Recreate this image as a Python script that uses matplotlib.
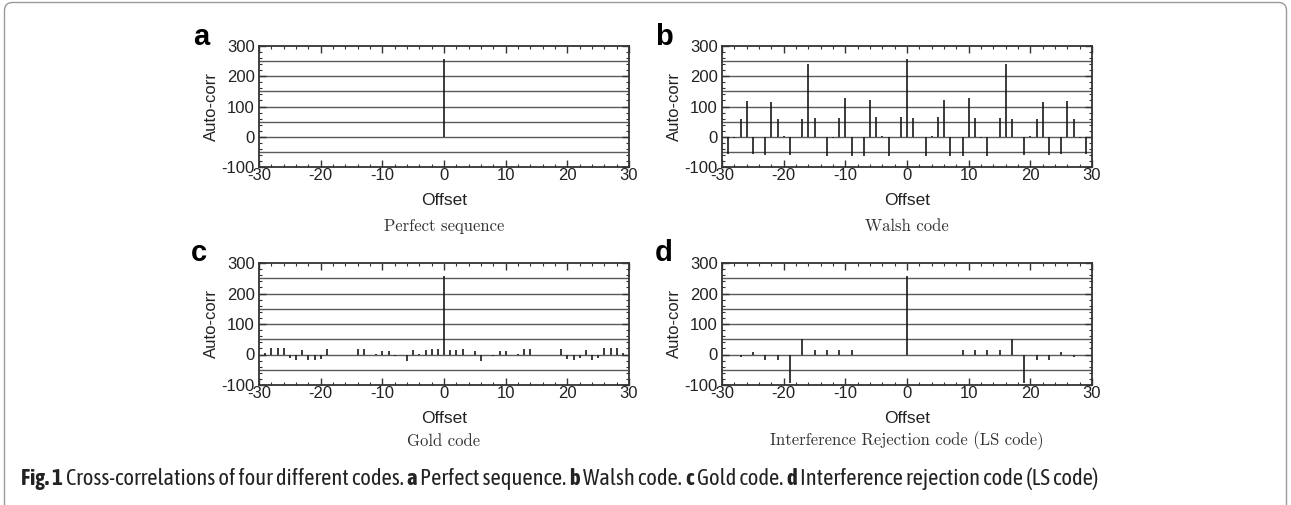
import numpy as np
import matplotlib
import matplotlib.pyplot as plt
from matplotlib.ticker import MultipleLocator
from matplotlib.patches import FancyBboxPatch
from matplotlib.transforms import IdentityTransform
from matplotlib import font_manager

plt.rcParams['font.family'] = ['Liberation Sans', 'DejaVu Sans']
plt.rcParams['axes.unicode_minus'] = False

# Data

perfect_offsets = [0]
perfect_vals = [256]

walsh_offsets = list(range(-29, 30))
walsh_vals = [-56, -3, 58, 118, -56, 0, -60, 116, 60, 4,
              -61, 0, 60, 242, 62, 0, -62, -5, 62, 127,
              -62, 0, -64, 123, 65, 4, -64, 0, 64, 256,
              63, 0, -64, 4, 64, 122, -64, 0, -62, 127,
              62, -4, -62, 0, 62, 242, 60, 0, -61, 4,
              60, 116, -60, 0, -56, 118, 58, -3, -56]

gold_offsets = list(range(-29, 30))
gold_vals = [4, 20, 20, 22, -13, -17, 16, -17, -17, -16,
             17, 0, -3, 0, -3, 17, 17, -2, 3, 13,
             13, -6, -2, -21, 15, 3, 15, 17, 17, 256,
             15, 15, 18, -1, 13, -20, -3, -6, 13, 13,
             -2, 2, 17, 17, -3, 0, -3, 0, 17, -16,
             -17, -13, 16, -17, -13, 22, 20, 20, 4]

ls_offsets = [-27, -25, -23, -21, -19, -17, -15, -13, -11, -9, 0,
              9, 11, 13, 15, 17, 19, 21, 23, 25, 27]
ls_vals = [-9, 7, -19, -19, -94, 50, 16, 16, 16, 16, 256,
           16, 16, 16, 16, 50, -94, -19, -19, 7, -9]

panels = [
    ('a', 'Perfect sequence', perfect_offsets, perfect_vals),
    ('b', 'Walsh code', walsh_offsets, walsh_vals),
    ('c', 'Gold code', gold_offsets, gold_vals),
    ('d', 'Interference Rejection code (LS code)', ls_offsets, ls_vals),
]

grid_levels = [-50, 0, 50, 100, 150, 200, 250]

caption_parts = [
    ('Fig. 1', 'bold'),
    ('Cross-correlations of four different codes.', 'normal'),
    ('a', 'bold'), ('Perfect sequence.', 'normal'),
    ('b', 'bold'), ('Walsh code.', 'normal'),
    ('c', 'bold'), ('Gold code.', 'normal'),
    ('d', 'bold'), ('Interference rejection code (LS code)', 'normal'),
]

# Layout (pixels)

W, H = 1291, 505
fig = plt.figure(figsize=(W / 100, H / 100), dpi=100)

boxes = [(259, 46, 629, 167), (722, 46, 1092, 167),
         (259, 263, 629, 385), (722, 263, 1092, 385)]
letter_pos = [(193, 45), (655, 45), (191, 261), (655, 261)]
subtitle_y = [226, 226, 441, 441]

# pick a narrow font for the caption, preferably one that has a bold face
fonts = font_manager.fontManager.ttflist
names = sorted({f.name for f in fonts})
narrow = [n for n in names if 'Narrow' in n or 'Condensed' in n]
with_bold = [n for n in narrow
             if any(f.name == n and f.weight in ('bold', 700, 600, 'semibold', 'demibold') for f in fonts)]
if with_bold:
    cap_font = cap_bold = with_bold[0]
elif narrow:
    cap_font = narrow[0]
    cap_bold = 'Roboto' if 'Roboto' in names else 'Liberation Sans'
else:
    cap_font = cap_bold = 'Roboto' if 'Roboto' in names else 'Liberation Sans'

for (letter, title, offs, vals), (l, t, r, b), (lx, ly), sy in zip(panels, boxes, letter_pos, subtitle_y):
    ax = fig.add_axes([l / W, 1 - b / H, (r - l) / W, (b - t) / H])
    for y in grid_levels:
        ax.axhline(y, color='#5a5a5a', lw=1.0, zorder=1)
    ax.vlines(offs, 0, vals, color='#1a1a1a', lw=1.2, zorder=2)
    ax.set_xlim(-30, 30)
    ax.set_ylim(-100, 300)
    ax.xaxis.set_major_locator(MultipleLocator(10))
    ax.xaxis.set_minor_locator(MultipleLocator(2))
    ax.yaxis.set_major_locator(MultipleLocator(100))
    ax.yaxis.set_minor_locator(MultipleLocator(20))
    ax.tick_params(which='both', direction='in', top=True, right=True,
                   color='#333333', labelsize=12, labelcolor='#222222')
    ax.tick_params(which='major', length=5, width=1)
    ax.tick_params(which='minor', length=2.5, width=0.8)
    ax.tick_params(axis='x', pad=1)
    ax.tick_params(axis='y', pad=3)
    for s in ax.spines.values():
        s.set_linewidth(1.3)
        s.set_color('#333333')
    ax.set_xlabel('Offset', fontsize=12.5, labelpad=7, color='#222222')
    ax.set_ylabel('Auto-corr', fontsize=12, labelpad=2, color='#222222')

    fig.text(lx / W, 1 - ly / H, letter, fontsize=21, fontweight='bold',
             ha='left', va='baseline')
    fig.text(((l + r) / 2) / W, 1 - sy / H, title, family='cmr10',
             fontsize=12, ha='center', va='center', color='#333333')

# Caption with bold labels, laid out piece by piece

renderer = fig.canvas.get_renderer()


def fam(weight):
    return cap_bold if weight == 'bold' else cap_font


def measure(txt, weight, fs):
    t = fig.text(0, 0, txt, fontsize=fs, fontweight=weight, family=fam(weight))
    w = t.get_window_extent(renderer).width
    t.remove()
    return w


fs = 13
space = measure('x x', 'normal', fs) - measure('xx', 'normal', fs)
total = sum(measure(p, wgt, fs) for p, wgt in caption_parts) + space * (len(caption_parts) - 1)
fs = fs * 1072 / total
space = measure('x x', 'normal', fs) - measure('xx', 'normal', fs)

x = 21
for p, wgt in caption_parts:
    t = fig.text(x / W, 1 - 485 / H, p, fontsize=fs, fontweight=wgt,
                 family=fam(wgt), ha='left', va='baseline', color='#222222')
    x += t.get_window_extent(renderer).width + space

# Rounded frame around the figure
frame = FancyBboxPatch((4.5 + 8, -20), W - 9 - 16, H - 2.5 + 20 - 8,
                       boxstyle='round,pad=8', transform=IdentityTransform(),
                       fill=False, edgecolor='#9a9a9a', lw=1.0)
fig.patches.append(frame)

fig.savefig('out.png', dpi=100)
